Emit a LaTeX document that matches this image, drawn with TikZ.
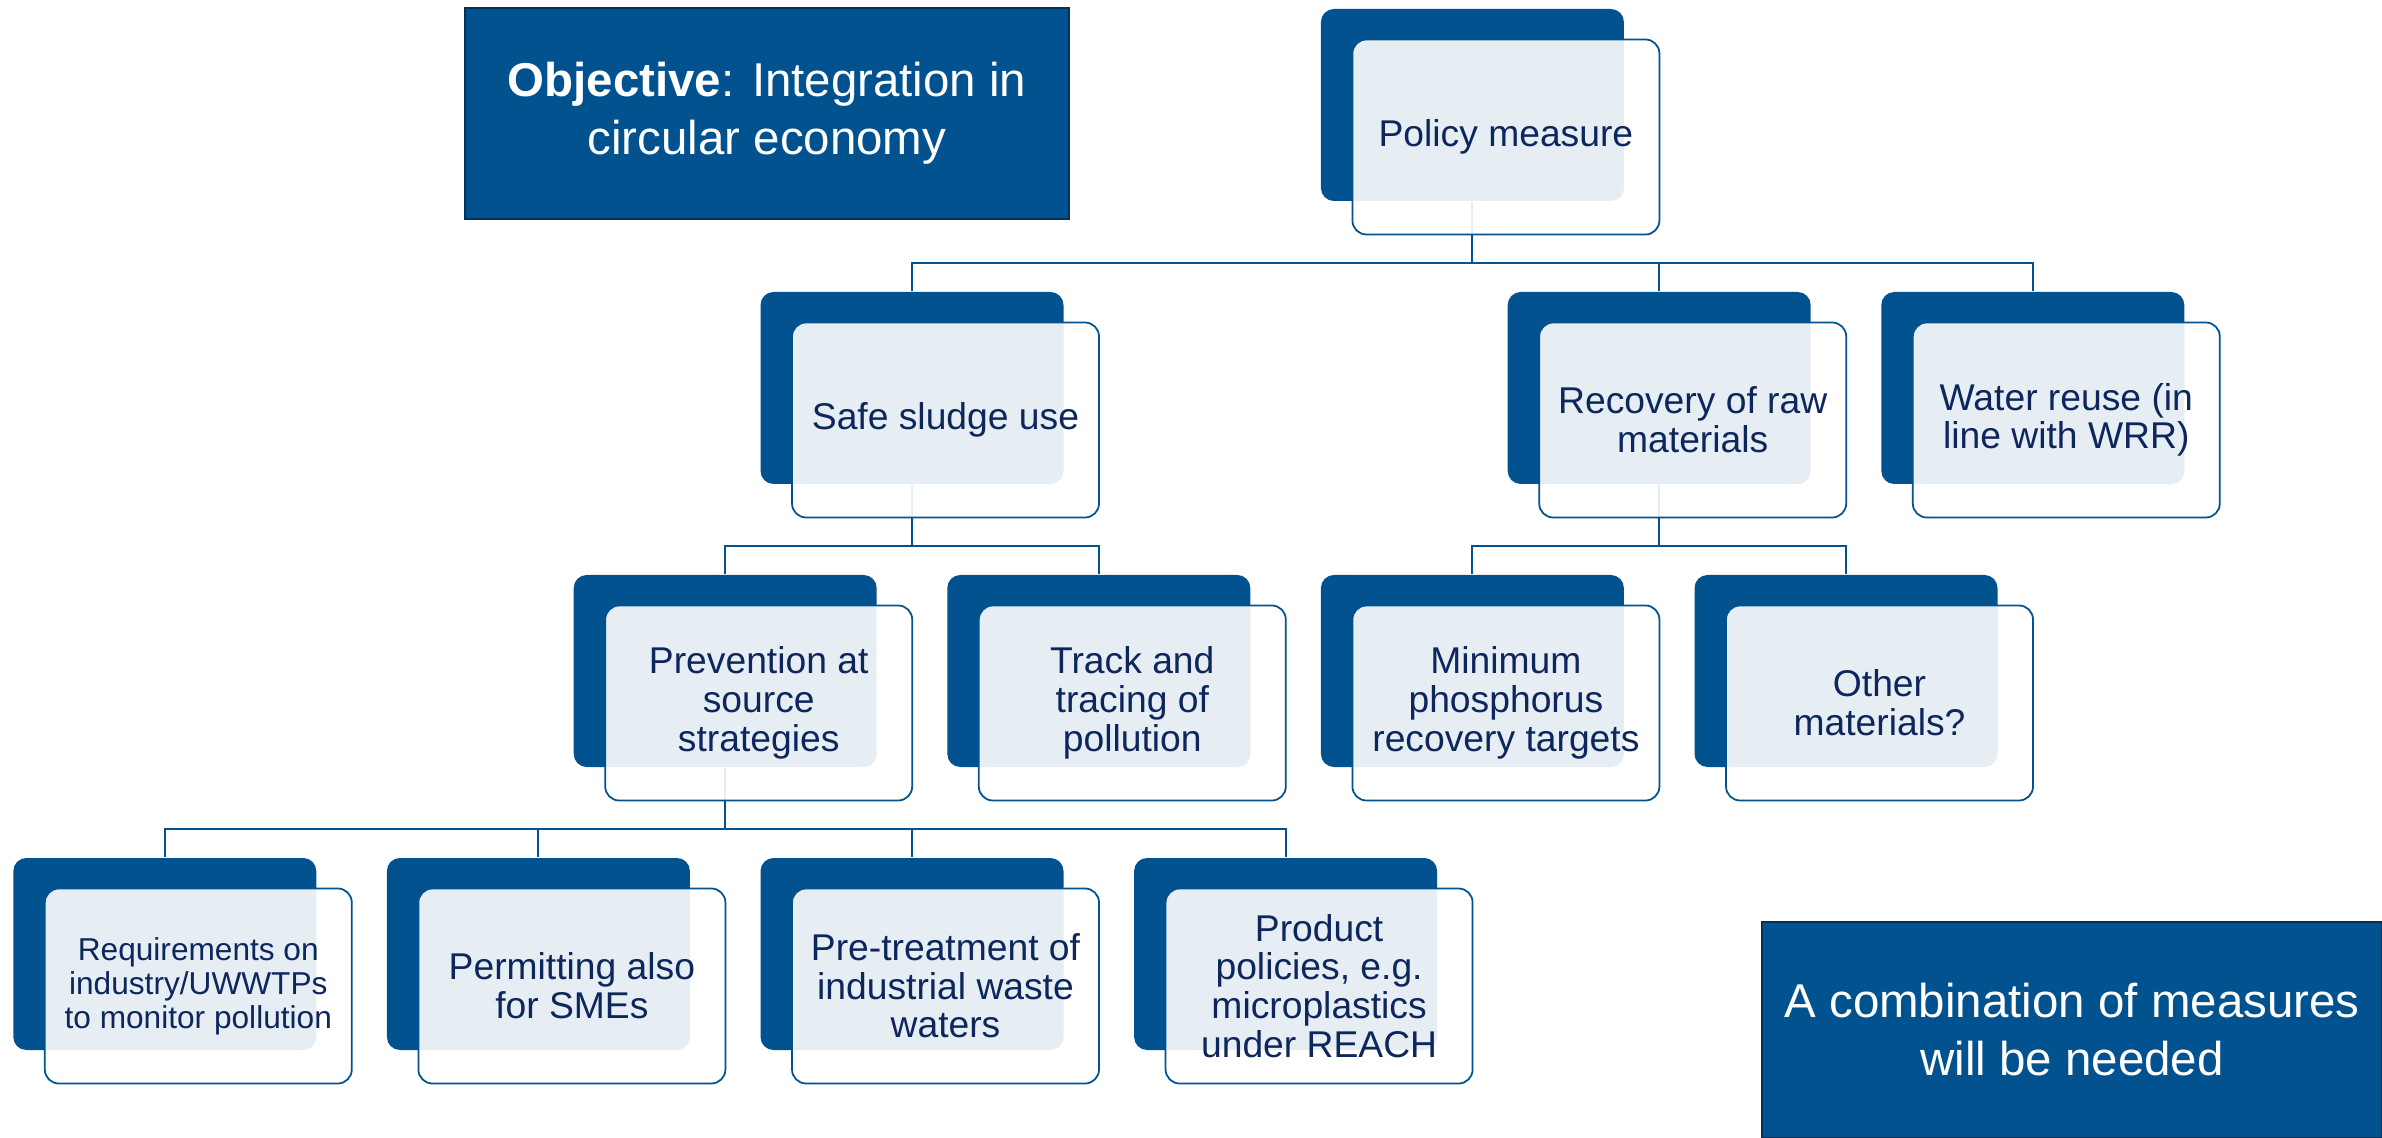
\documentclass[tikz,border=0pt]{standalone}
\usepackage{fontspec}
\setmainfont{Liberation Sans}
\definecolor{eublue}{RGB}{2,82,144}
\definecolor{inknavy}{RGB}{13,38,92}
\tikzset{
  back/.style={fill=eublue,rounded corners=0.13cm,minimum width=3.03cm,minimum height=1.92cm,inner sep=0pt},
  front/.style={draw=eublue,line width=0.5pt,fill=white,fill opacity=0.9,text opacity=1,rounded corners=0.14cm,minimum width=3.07cm,minimum height=1.95cm,inner sep=0pt,align=center,text=inknavy,font=\fontsize{10.6}{11}\selectfont,xshift=0.335cm,yshift=-0.32cm},
  smalltext/.style={font=\fontsize{9}{9.7}\selectfont},
  link/.style={draw=eublue,line width=0.6pt},
  banner/.style={fill=eublue,draw=eublue!60!black,line width=0.5pt,text=white,align=center,inner sep=0pt,font=\fontsize{13.5}{16.5}\selectfont}
}
\begin{document}
\begin{tikzpicture}[x=3.736cm,y=2.83cm]
\useasboundingbox (-1.648cm,1.05cm) rectangle (22.172cm,-10.33cm);
% back plates
\node[back] (pol) at (3.5,0) {};
\node[back] (sludge) at (2,-1) {};
\node[back] (recov) at (4,-1) {};
\node[back] (reuse) at (5,-1) {};
\node[back] (prev) at (1.5,-2) {};
\node[back] (track) at (2.5,-2) {};
\node[back] (phos) at (3.5,-2) {};
\node[back] (other) at (4.5,-2) {};
\node[back] (req) at (0,-3) {};
\node[back] (permit) at (1,-3) {};
\node[back] (pretreat) at (2,-3) {};
\node[back] (product) at (3,-3) {};
% tree links
\draw[link] (pol.south) -- ++(0cm,-0.61cm) -| (sludge.north);
\draw[link] (pol.south) -- ++(0cm,-0.61cm) -| (recov.north);
\draw[link] (pol.south) -- ++(0cm,-0.61cm) -| (reuse.north);
\draw[link] (sludge.south) -- ++(0cm,-0.61cm) -| (prev.north);
\draw[link] (sludge.south) -- ++(0cm,-0.61cm) -| (track.north);
\draw[link] (recov.south) -- ++(0cm,-0.61cm) -| (phos.north);
\draw[link] (recov.south) -- ++(0cm,-0.61cm) -| (other.north);
\draw[link] (prev.south) -- ++(0cm,-0.61cm) -| (req.north);
\draw[link] (prev.south) -- ++(0cm,-0.61cm) -| (permit.north);
\draw[link] (prev.south) -- ++(0cm,-0.61cm) -| (pretreat.north);
\draw[link] (prev.south) -- ++(0cm,-0.61cm) -| (product.north);
% front cards
\node[front] (polf) at (pol) {Policy measure};
\node[front] (sludgef) at (sludge) {Safe sludge use};
\node[front] (recovf) at (recov) {Recovery of raw\\materials};
\node[front] (reusef) at (reuse) {Water reuse (in\\line with WRR)};
\node[front] (prevf) at (prev) {Prevention at\\source\\strategies};
\node[front] (trackf) at (track) {Track and\\tracing of\\pollution};
\node[front] (phosf) at (phos) {Minimum\\phosphorus\\recovery targets};
\node[front] (otherf) at (other) {Other\\materials?};
\node[front,smalltext] (reqf) at (req) {Requirements on\\industry/UWWTPs\\to monitor pollution};
\node[front] (permitf) at (permit) {Permitting also\\for SMEs};
\node[front] (pretreatf) at (pretreat) {Pre-treatment of\\industrial waste\\waters};
\node[front] (productf) at (product) {Product\\policies, e.g.\\microplastics\\under REACH};
% banners
\node[banner,minimum width=6.04cm,minimum height=2.11cm] (goal) at (6.022cm,-0.085cm) {\textbf{Objective}: Integration in\\circular economy};
\node[banner,minimum width=6.2cm,minimum height=2.16cm] (combo) at (19.072cm,-9.25cm) {A combination of measures\\will be needed};
\end{tikzpicture}
\end{document}
